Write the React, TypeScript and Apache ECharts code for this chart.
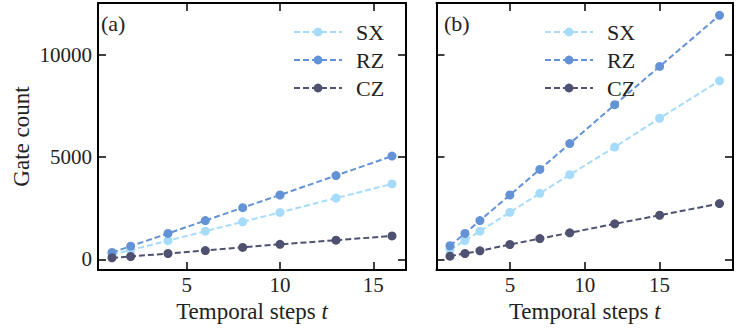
import React, { useEffect, useRef } from "react";
import * as echarts from "echarts";

// Gate counts per temporal step, panel (a)
const stepsA = [1, 2, 4, 6, 8, 10, 13, 16];
const sxA = [240, 460, 920, 1380, 1840, 2300, 3000, 3690];
const rzA = [340, 650, 1270, 1900, 2530, 3150, 4100, 5050];
const czA = [80, 145, 290, 435, 590, 740, 940, 1150];

// Gate counts per temporal step, panel (b)
const stepsB = [1, 2, 3, 5, 7, 9, 12, 15, 19];
const sxB = [470, 925, 1380, 2305, 3230, 4140, 5490, 6900, 8730];
const rzB = [670, 1270, 1900, 3150, 4400, 5660, 7560, 9430, 11930];
const czB = [160, 290, 420, 730, 1020, 1300, 1740, 2160, 2730];

const gateNames = ["SX", "RZ", "CZ"];
const gateColors = ["#a6dbfb", "#6492d6", "#4e5170"];
const panelLabels = ["(a)", "(b)"];

const FONT = "'Liberation Serif', 'DejaVu Serif', serif";

const pairs = (xs: number[], ys: number[]) => xs.map((x, i) => [x, ys[i]]);

export default function App() {
  const ref = useRef<HTMLDivElement>(null);

  useEffect(() => {
    if (!ref.current) return;
    const chart = echarts.init(ref.current, undefined, { renderer: "svg" });

    const grids = [
      { left: 98, top: 3, width: 308, height: 269 },
      { left: 436.5, top: 3, width: 307.5, height: 269 },
    ];
    const xRanges = [
      [0.25, 16.75],
      [0.1, 19.9],
    ];
    const yRange = [-520, 12530];

    const frameLine = { show: true, onZero: false, lineStyle: { color: "#000", width: 2 } };
    const tick = { show: true, inside: true, length: 8, lineStyle: { color: "#000", width: 1.5 } };
    const labelStyle = { fontFamily: FONT, fontSize: 21, color: "#222" };
    const nameStyle = { fontFamily: FONT, fontSize: 23, color: "#222" };

    const xAxis: any[] = [];
    const yAxis: any[] = [];
    grids.forEach((_, g) => {
      const xBase = {
        type: "value",
        gridIndex: g,
        min: xRanges[g][0],
        max: xRanges[g][1],
        minInterval: 5,
        maxInterval: 5,
        splitLine: { show: false },
        axisLine: frameLine,
        axisTick: tick,
      };
      xAxis.push({
        ...xBase,
        position: "bottom",
        axisLabel: {
          ...labelStyle,
          margin: 4,
          formatter: (v: number) => (v > 0 && v % 5 === 0 ? String(v) : ""),
        },
        name: "Temporal steps {it|t}",
        nameLocation: "middle",
        nameGap: 25,
        nameTextStyle: {
          ...nameStyle,
          rich: { it: { ...nameStyle, fontStyle: "italic" } },
        },
      });
      xAxis.push({ ...xBase, position: "top", axisLabel: { show: false } });

      const yBase = {
        type: "value",
        gridIndex: g,
        min: yRange[0],
        max: yRange[1],
        minInterval: 5000,
        maxInterval: 5000,
        splitLine: { show: false },
        axisLine: frameLine,
        axisTick: tick,
      };
      yAxis.push({
        ...yBase,
        position: "left",
        axisLabel:
          g === 0
            ? {
                ...labelStyle,
                margin: 6,
                formatter: (v: number) => (v >= 0 && v % 5000 === 0 ? String(v) : ""),
              }
            : { show: false },
        ...(g === 0
          ? {
              name: "Gate count",
              nameLocation: "middle",
              nameGap: 65,
              nameTextStyle: nameStyle,
            }
          : {}),
      });
      yAxis.push({ ...yBase, position: "right", axisLabel: { show: false } });
    });

    const panelData = [
      { steps: stepsA, values: [sxA, rzA, czA] },
      { steps: stepsB, values: [sxB, rzB, czB] },
    ];

    const series: any[] = [];
    panelData.forEach((p, g) => {
      p.values.forEach((vals, k) => {
        series.push({
          type: "line",
          name: gateNames[k],
          xAxisIndex: g * 2,
          yAxisIndex: g * 2,
          data: pairs(p.steps, vals),
          symbol: "circle",
          symbolSize: 9,
          showSymbol: true,
          color: gateColors[k],
          lineStyle: { color: gateColors[k], width: 2, type: [6, 3] },
          itemStyle: { color: gateColors[k] },
          clip: false,
        });
      });
    });

    const legendBase = {
      orient: "vertical",
      top: 21,
      padding: 0,
      itemWidth: 48,
      itemHeight: 11,
      itemGap: 6,
      data: gateNames,
      selectedMode: false,
      textStyle: { fontFamily: FONT, fontSize: 22, color: "#222", padding: [0, 0, 0, 9] },
    };

    chart.setOption({
      animation: false,
      backgroundColor: "#fff",
      grid: grids,
      xAxis,
      yAxis,
      series,
      legend: [
        { ...legendBase, left: 293 },
        { ...legendBase, left: 544 },
      ],
      graphic: panelLabels.map((t, i) => ({
        type: "text",
        left: i === 0 ? 101 : 444,
        top: 12,
        style: { text: t, font: `22px ${FONT}`, fill: "#222" },
      })),
    });

    return () => chart.dispose();
  }, []);

  return (
    <div
      ref={ref}
      style={{ position: "fixed", left: 0, top: 0, width: 736, height: 328 }}
    />
  );
}
